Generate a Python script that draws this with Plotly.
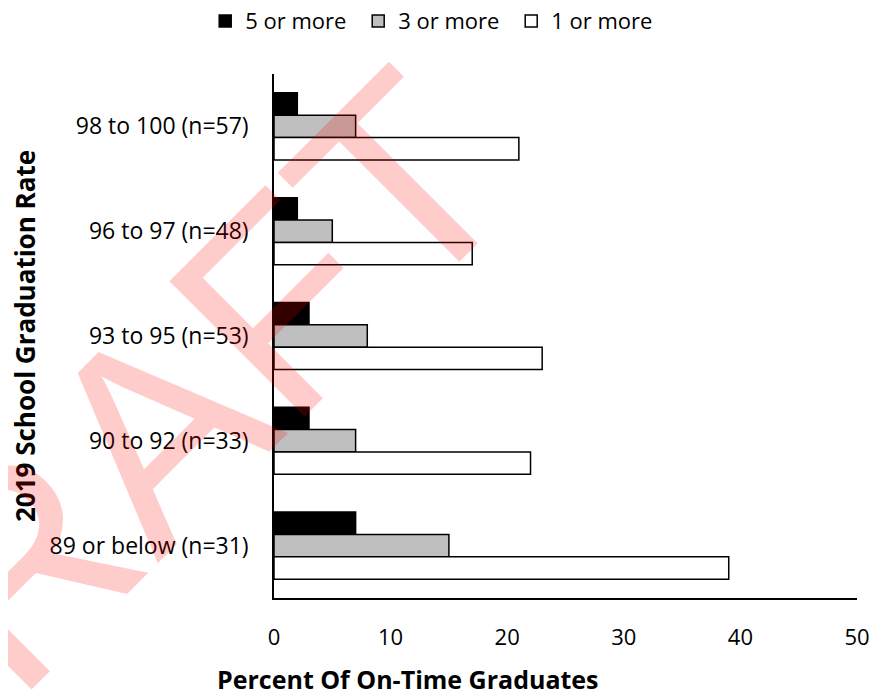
import plotly.graph_objects as go

categories = ["98 to 100 (n=57)", "96 to 97 (n=48)", "93 to 95 (n=53)",
              "90 to 92 (n=33)", "89 or below (n=31)"]
series_names = ["5 or more", "3 or more", "1 or more"]
five_or_more = [2, 2, 3, 3, 7]
three_or_more = [7, 5, 8, 7, 15]
one_or_more = [21, 17, 23, 22, 39]
x_ticks = [0, 10, 20, 30, 40, 50]

colors = ["#000000", "#BFBFBF", "#FFFFFF"]
values = [five_or_more, three_or_more, one_or_more]

FONT = "Open Sans"

fig = go.Figure()
for name, vals, col in zip(series_names, values, colors):
    fig.add_trace(go.Bar(
        y=categories, x=vals, name=name, orientation="h",
        marker=dict(color=col, line=dict(color="#000000", width=1.5)),
    ))

fig.update_layout(
    width=875, height=690,
    margin=dict(l=266, r=26, t=66, b=100, autoexpand=False),
    paper_bgcolor="white", plot_bgcolor="white",
    font=dict(family=FONT, size=22, color="#000000"),
    barmode="group", bargap=0.36, bargroupgap=0,
    showlegend=True,
    legend=dict(orientation="h", x=-0.118, xanchor="left", y=1.101, yanchor="middle",
                traceorder="normal", font=dict(size=22, family=FONT),
                entrywidth=108, bgcolor="rgba(0,0,0,0)"),
    xaxis=dict(range=[0, 50], tickvals=x_ticks, showgrid=False, zeroline=False,
               showline=True, linecolor="#000000", linewidth=1.5, automargin=False,
               ticks="", ticklabelstandoff=19, tickfont=dict(size=22, family=FONT)),
    yaxis=dict(categoryorder="array", categoryarray=categories, autorange="reversed",
               showgrid=False, zeroline=False, showline=True, linecolor="#000000",
               linewidth=1.5, ticks="", ticklabelstandoff=19, automargin=False,
               tickfont=dict(size=23, family=FONT)),
    annotations=[
        dict(text="<b>Percent Of On-Time Graduates</b>", xref="paper", yref="paper",
             x=0.23, y=-0.155, xanchor="center", yanchor="middle", showarrow=False,
             font=dict(size=25, family=FONT)),
        dict(text="<b>2019 School Graduation Rate</b>", xref="paper", yref="paper",
             x=-0.427, y=0.5, xanchor="center", yanchor="middle", showarrow=False,
             textangle=-90, font=dict(size=26, family=FONT)),
        dict(text="DRAFT", xref="paper", yref="paper", x=-0.242, y=0.2805,
             xanchor="center", yanchor="middle", showarrow=False, textangle=-45,
             font=dict(size=278, family="Liberation Sans", color="rgba(255,0,0,0.2)")),
    ],
)

fig.write_html("out.html")
